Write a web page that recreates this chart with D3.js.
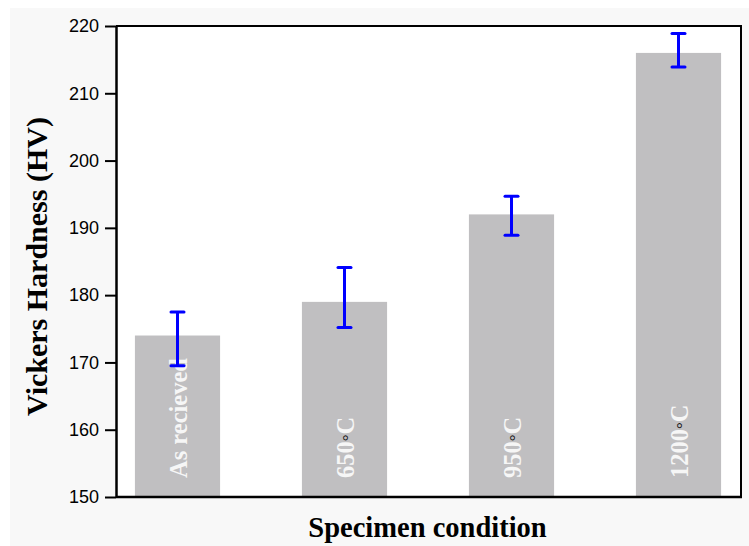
<!DOCTYPE html>
<html>
<head>
<meta charset="utf-8">
<script src="https://cdn.jsdelivr.net/npm/d3@7"></script>
<style>
  html, body { margin: 0; padding: 0; background: #ffffff; }
  svg { display: block; }
</style>
</head>
<body>
<svg id="chart" width="749" height="546"></svg>
<script>
// ---- data ----
const categories = ["As recieved", "650", "950", "1200"];
const labelSuffix = ["", "°C", "°C", "°C"];
const hardness = [174, 179, 192, 216];
const errHigh = [177.5, 184.1, 194.7, 218.9];
const errLow = [169.5, 175.2, 188.9, 213.9];
const yTicks = [150, 160, 170, 180, 190, 200, 210, 220];
const yDomain = [150, 220];

// ---- layout ----
const W = 749, H = 546;
const plot = { left: 116, right: 741, top: 26, bottom: 497 };

const svg = d3.select("#chart");

// outer light background
svg.append("rect").attr("x", 10).attr("y", 8).attr("width", W - 10).attr("height", H - 8)
  .attr("fill", "#f8f8f8");
// plot background
svg.append("rect").attr("x", plot.left).attr("y", plot.top)
  .attr("width", plot.right - plot.left).attr("height", plot.bottom - plot.top)
  .attr("fill", "#ffffff");

const x = d3.scaleBand().domain(categories)
  .range([94, 762]).paddingInner(0.49).paddingOuter(0.245);
const y = d3.scaleLinear().domain(yDomain).range([plot.bottom, plot.top]);

const data = categories.map((c, i) => ({ c, v: hardness[i], hi: errHigh[i], lo: errLow[i], suf: labelSuffix[i] }));

// bars
svg.append("g").selectAll("rect").data(data).join("rect")
  .attr("x", d => x(d.c))
  .attr("y", d => y(d.v))
  .attr("width", x.bandwidth())
  .attr("height", d => y(yDomain[0]) - y(d.v))
  .attr("fill", "#c0bfc1");

// labels inside bars
const lab = svg.append("g").selectAll("text").data(data).join("text")
  .attr("transform", d => `translate(${x(d.c) + x.bandwidth() / 2 + 9},${plot.bottom - 19}) rotate(-90)`)
  .attr("text-anchor", "start")
  .attr("font-family", "'Liberation Serif', 'Times New Roman', serif")
  .attr("font-weight", "bold")
  .attr("font-size", 24.5)
  .attr("fill", "#f6f6f6");
lab.append("tspan").text(d => d.c);
lab.filter(d => d.suf).append("tspan")
  .attr("fill", "#111")
  .attr("font-weight", "normal").attr("font-size", 17)
  .text("°");
lab.filter(d => d.suf).append("tspan").text("C");

// error bars
const eb = svg.append("g").attr("stroke", "#0000ff").attr("stroke-width", 3);
const cap = 6.5;
data.forEach(d => {
  const cx = x(d.c) + x.bandwidth() / 2;
  eb.append("line").attr("x1", cx).attr("x2", cx).attr("y1", y(d.hi)).attr("y2", y(d.lo));
  eb.append("line").attr("x1", cx - cap).attr("x2", cx + cap).attr("y1", y(d.hi)).attr("y2", y(d.hi)).attr("stroke-linecap", "round");
  eb.append("line").attr("x1", cx - cap).attr("x2", cx + cap).attr("y1", y(d.lo)).attr("y2", y(d.lo)).attr("stroke-linecap", "round");
});

// frame (top & right)
svg.append("path")
  .attr("d", `M${plot.left},${plot.top}H${plot.right}V${plot.bottom}`)
  .attr("fill", "none").attr("stroke", "#000").attr("stroke-width", 2);

// bottom axis line
svg.append("line").attr("x1", plot.left).attr("x2", plot.right + 1)
  .attr("y1", plot.bottom).attr("y2", plot.bottom)
  .attr("stroke", "#000").attr("stroke-width", 2.5);

// left axis
const yAxis = d3.axisLeft(y).tickValues(yTicks).tickSize(11).tickSizeOuter(0).tickPadding(6)
  .tickFormat(d3.format("d"));
const ag = svg.append("g").attr("transform", `translate(${plot.left},0)`).call(yAxis);
ag.select(".domain").attr("stroke", "#000").attr("stroke-width", 2.5);
ag.selectAll(".tick line").attr("stroke", "#000").attr("stroke-width", 2);
ag.selectAll(".tick text")
  .attr("font-family", "'Liberation Sans', Arial, sans-serif")
  .attr("font-size", 18).attr("fill", "#000");

// axis titles
svg.append("text")
  .attr("x", (plot.left + plot.right) / 2 - 1).attr("y", 537)
  .attr("text-anchor", "middle")
  .attr("font-family", "'Liberation Serif', 'Times New Roman', serif")
  .attr("font-weight", "bold").attr("font-size", 28.5)
  .text("Specimen condition");

svg.append("text")
  .attr("transform", `translate(47,${(113 + 420) / 2}) rotate(-90)`)
  .attr("text-anchor", "middle")
  .attr("font-family", "'Liberation Serif', 'Times New Roman', serif")
  .attr("font-weight", "bold").attr("font-size", 30)
  .text("Vickers Hardness (HV)");
</script>
</body>
</html>
